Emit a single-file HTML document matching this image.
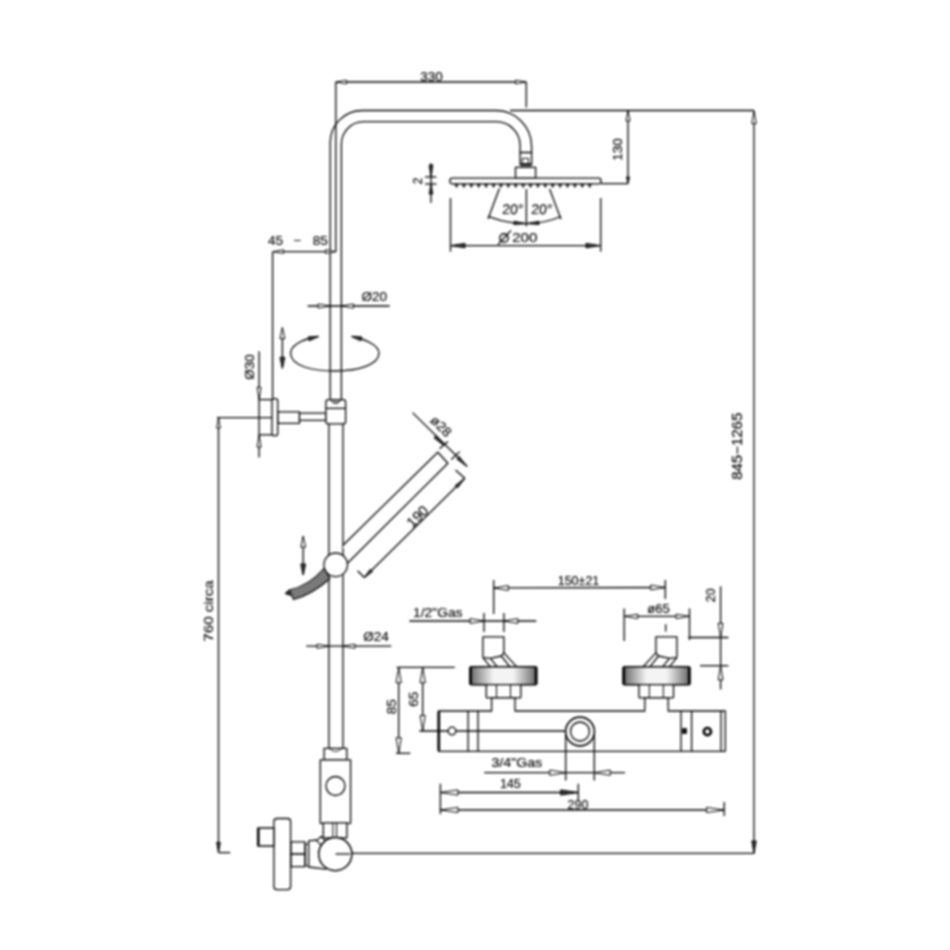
<!DOCTYPE html>
<html><head><meta charset="utf-8"><style>
html,body{margin:0;padding:0;background:#fff;width:950px;height:950px;overflow:hidden}
svg{display:block;filter:blur(1px)}
text{font-family:"Liberation Sans",sans-serif;fill:#000;stroke:#000;stroke-width:0.15px}
</style></head><body>
<svg width="950" height="950" viewBox="0 0 950 950">
<defs>
<linearGradient id="nutg" x1="0" x2="1" y1="0" y2="0">
<stop offset="0" stop-color="#666"/><stop offset="0.12" stop-color="#999"/><stop offset="0.35" stop-color="#f4f4f4"/><stop offset="0.65" stop-color="#f4f4f4"/><stop offset="0.88" stop-color="#999"/><stop offset="1" stop-color="#666"/>
</linearGradient>
<filter id="bl" x="0" y="0" width="950" height="950" filterUnits="userSpaceOnUse"><feGaussianBlur stdDeviation="0.55"/></filter>
</defs>
<g stroke="#000" stroke-width="1.3" fill="none" stroke-linejoin="round">
<line x1="335.8" y1="82" x2="526.3" y2="82"/>
<line x1="335.8" y1="82" x2="335.8" y2="252"/>
<line x1="526.3" y1="82" x2="526.3" y2="107.5"/>
<path d="M336.5 82L346.5 80.2L346.5 83.8Z" fill="#fff" stroke-width="1"/>
<path d="M525.5 82L515.5 83.8L515.5 80.2Z" fill="#fff" stroke-width="1"/>
<text transform="translate(431.5 80.5)" font-size="13.5" text-anchor="middle">330</text>
<line x1="510" y1="110.5" x2="754" y2="110.5"/>
<path d="M330.2 399.6 V142.5 A32 32 0 0 1 362.2 110.5 H495.6 A36 36 0 0 1 531.6 146.5 V152.5" fill="none"/>
<path d="M341.4 399.6 V144 A22.3 22.3 0 0 1 363.7 121.7 H496.3 A23.8 23.8 0 0 1 520.1 145.5 V152.5" fill="none"/>
<rect x="520.1" y="152.5" width="11.5" height="12" fill="#fff"/>
<rect x="522.3" y="158.4" width="6.2" height="5.2" fill="#fff" stroke-width="1"/>
<rect x="520.8" y="163.5" width="10.2" height="2.5" fill="#333" stroke-width="0.5"/>
<rect x="515.5" y="167.3" width="20.1" height="11.1" fill="#fff"/>
<rect x="449.9" y="178.2" width="151.1" height="5.6" fill="#fff" rx="2.5"/>
<path d="M454.8 184.4 L458.2 184.4 L456.5 187.6 Z" fill="#1a1a1a" stroke-width="0.6"/>
<path d="M462.2 184.4 L465.6 184.4 L463.9 187.6 Z" fill="#1a1a1a" stroke-width="0.6"/>
<path d="M469.6 184.4 L473 184.4 L471.3 187.6 Z" fill="#1a1a1a" stroke-width="0.6"/>
<path d="M477 184.4 L480.4 184.4 L478.7 187.6 Z" fill="#1a1a1a" stroke-width="0.6"/>
<path d="M484.4 184.4 L487.8 184.4 L486.1 187.6 Z" fill="#1a1a1a" stroke-width="0.6"/>
<path d="M491.8 184.4 L495.2 184.4 L493.5 187.6 Z" fill="#1a1a1a" stroke-width="0.6"/>
<path d="M499.2 184.4 L502.6 184.4 L500.9 187.6 Z" fill="#1a1a1a" stroke-width="0.6"/>
<path d="M506.6 184.4 L510 184.4 L508.3 187.6 Z" fill="#1a1a1a" stroke-width="0.6"/>
<path d="M514 184.4 L517.4 184.4 L515.7 187.6 Z" fill="#1a1a1a" stroke-width="0.6"/>
<path d="M521.4 184.4 L524.8 184.4 L523.1 187.6 Z" fill="#1a1a1a" stroke-width="0.6"/>
<path d="M528.8 184.4 L532.2 184.4 L530.5 187.6 Z" fill="#1a1a1a" stroke-width="0.6"/>
<path d="M536.2 184.4 L539.6 184.4 L537.9 187.6 Z" fill="#1a1a1a" stroke-width="0.6"/>
<path d="M543.6 184.4 L547 184.4 L545.3 187.6 Z" fill="#1a1a1a" stroke-width="0.6"/>
<path d="M551 184.4 L554.4 184.4 L552.7 187.6 Z" fill="#1a1a1a" stroke-width="0.6"/>
<path d="M558.4 184.4 L561.8 184.4 L560.1 187.6 Z" fill="#1a1a1a" stroke-width="0.6"/>
<path d="M565.8 184.4 L569.2 184.4 L567.5 187.6 Z" fill="#1a1a1a" stroke-width="0.6"/>
<path d="M573.2 184.4 L576.6 184.4 L574.9 187.6 Z" fill="#1a1a1a" stroke-width="0.6"/>
<path d="M580.6 184.4 L584 184.4 L582.3 187.6 Z" fill="#1a1a1a" stroke-width="0.6"/>
<path d="M588 184.4 L591.4 184.4 L589.7 187.6 Z" fill="#1a1a1a" stroke-width="0.6"/>
<line x1="601" y1="183.6" x2="628" y2="183.6"/>
<line x1="628" y1="110.5" x2="628" y2="183.6"/>
<path d="M628 111L630 121L626 121Z" fill="#fff" stroke-width="1"/>
<path d="M628 183L626.5 177L629.5 177Z" fill="#333" stroke-width="1"/>
<text transform="translate(622 149.5) rotate(-90)" font-size="13.5" text-anchor="middle">130</text>
<line x1="431" y1="163.3" x2="431" y2="203"/>
<line x1="425" y1="177" x2="436.5" y2="177"/>
<line x1="425" y1="184" x2="436.5" y2="184"/>
<path d="M431 177L429.2 165L432.8 165Z" fill="#333" stroke-width="1"/>
<path d="M431 184L432.8 194L429.2 194Z" fill="#333" stroke-width="1"/>
<text transform="translate(422 181) rotate(-90)" font-size="12" text-anchor="middle">2</text>
<line x1="526.4" y1="189" x2="526.4" y2="226.4"/>
<line x1="499.4" y1="188.5" x2="488" y2="219"/>
<line x1="549.6" y1="189" x2="561" y2="219.3"/>
<path d="M488 216.3 Q526.4 231 561 216.5" fill="none"/>
<path d="M526 223.5L513.94 224.5L514.09 221.3Z" fill="#333" stroke-width="1"/>
<path d="M527 223.5L538.91 221.3L539.06 224.5Z" fill="#333" stroke-width="1"/>
<text transform="translate(512.5 213.6) skewX(-4)" font-size="14" text-anchor="middle">20°</text>
<text transform="translate(541.6 213.6) skewX(-4)" font-size="14" text-anchor="middle">20°</text>
<line x1="450.5" y1="198" x2="450.5" y2="251.7"/>
<line x1="600.7" y1="198" x2="600.7" y2="251.7"/>
<line x1="450.5" y1="245.6" x2="600.7" y2="245.6"/>
<path d="M451 245.6L465 243.4L465 247.8Z" fill="#333" stroke-width="1"/>
<path d="M600 245.6L586 247.8L586 243.4Z" fill="#333" stroke-width="1"/>
<text transform="translate(524.8 242) scale(1.12 1)" font-size="13.5" text-anchor="middle">200</text>
<circle cx="504" cy="238" r="4.2" fill="none" stroke-width="1.4"/>
<line x1="498" y1="244.5" x2="511" y2="230.5" stroke-width="1.2"/>
<line x1="754" y1="110.7" x2="754" y2="853.6"/>
<path d="M754 111.5L756.2 123.5L751.8 123.5Z" fill="#fff" stroke-width="1"/>
<path d="M754 853L751.8 841L756.2 841Z" fill="#333" stroke-width="1"/>
<text transform="translate(742 446.3) rotate(-90) scale(1.07 1)" font-size="14" text-anchor="middle">845−1265</text>
<line x1="335.5" y1="853.4" x2="754" y2="853.4"/>
<line x1="272.9" y1="251.6" x2="336" y2="251.6"/>
<path d="M273.5 251.6L283.5 249.8L283.5 253.4Z" fill="#fff" stroke-width="1"/>
<path d="M335.5 251.6L325.5 253.4L325.5 249.8Z" fill="#fff" stroke-width="1"/>
<line x1="272.6" y1="251.6" x2="272.6" y2="399.6"/>
<text transform="translate(275.5 245.3)" font-size="13.5" text-anchor="middle">45</text>
<text transform="translate(297.5 245.3)" font-size="13.5" text-anchor="middle">−</text>
<text transform="translate(320.2 245.3)" font-size="13.5" text-anchor="middle">85</text>
<line x1="307.6" y1="306" x2="389.7" y2="306"/>
<path d="M330 306L318 308L318 304Z" fill="#fff" stroke-width="1"/>
<path d="M341.5 306L353.5 304L353.5 308Z" fill="#fff" stroke-width="1"/>
<text transform="translate(374.3 300.5)" font-size="13.5" text-anchor="middle">Ø20</text>
<path d="M318.5 336.5 C 300 339, 290 347, 290.6 354 C 292 366, 312 371, 335 371 C 360 371, 379 364, 379 353 C 379 346, 368 340, 352 336.5" fill="none"/>
<path d="M318.5 336.4L309.28 340.77L308.31 336.89Z" fill="#333" stroke-width="1"/>
<path d="M351.5 336.4L361.69 336.89L360.72 340.77Z" fill="#333" stroke-width="1"/>
<line x1="282.4" y1="327.6" x2="282.4" y2="368.3"/>
<path d="M282.4 327.6L284.8 338.6L280 338.6Z" fill="#fff" stroke-width="1"/>
<path d="M282.4 368.3L280 357.3L284.8 357.3Z" fill="#333" stroke-width="1"/>
<line x1="259.1" y1="351.3" x2="259.1" y2="457.4"/>
<line x1="259.1" y1="399.6" x2="272" y2="399.6"/>
<line x1="259.1" y1="434.8" x2="272" y2="434.8"/>
<path d="M259.1 399.3L257.1 387.3L261.1 387.3Z" fill="#fff" stroke-width="1"/>
<path d="M259.1 435.1L261.1 447.1L257.1 447.1Z" fill="#fff" stroke-width="1"/>
<text transform="translate(253.5 367) rotate(-90)" font-size="13.5" text-anchor="middle">Ø30</text>
<line x1="217" y1="417.6" x2="272.6" y2="417.6"/>
<line x1="218.5" y1="417.6" x2="218.5" y2="852.6"/>
<line x1="218.5" y1="852.6" x2="230.3" y2="852.6"/>
<path d="M218.5 418L220.3 428L216.7 428Z" fill="#fff" stroke-width="1"/>
<path d="M218.5 852.4L216.7 842.4L220.3 842.4Z" fill="#333" stroke-width="1"/>
<text transform="translate(213 611) rotate(-90) scale(1.12 1)" font-size="13.5" text-anchor="middle">760  circa</text>
<rect x="277.7" y="411.9" width="21.8" height="11.4" fill="#fff"/>
<rect x="299.5" y="413.2" width="26.5" height="7.2" fill="#fff"/>
<rect x="272" y="398.6" width="5.7" height="37" fill="#fff" rx="2.2"/>
<line x1="328.9" y1="424" x2="328.9" y2="748.4"/>
<line x1="343" y1="424" x2="343" y2="748.4"/>
<rect x="325.9" y="399.6" width="19.7" height="24.3" fill="#fff" rx="2.5"/>
<line x1="325.9" y1="408.4" x2="345.6" y2="408.4"/>
<path d="M330.5 400 Q335.8 407 341 400" fill="#999" stroke-width="1"/>
<path d="M342.8 545.5 L437.8 452.2 L447.9 463.2 L347.5 563.2" fill="#fff"/>
<circle cx="335.7" cy="564.8" r="11.8" fill="#fff"/>
<path d="M324 568.5 C 313 581, 301 587.5, 289.5 590 L 293.5 599.5 C 306 596, 319 588.5, 330 578.5 Z" fill="#7a7a7a" stroke-width="1.1"/>
<path d="M289.5 590 L 285.5 593.5 L 291 595.5" fill="#333" stroke-width="1.2"/>
<line x1="412.5" y1="412.6" x2="467.3" y2="466.5"/>
<line x1="439.5" y1="448.8" x2="447.9" y2="441.4"/>
<line x1="451.3" y1="459.5" x2="459.7" y2="451.6"/>
<path d="M443.6 445.2L433.98 437.85L436.25 435.58Z" fill="#333" stroke-width="1"/>
<path d="M466.5 466.2L456.81 458.92L459.22 456.51Z" fill="#333" stroke-width="1"/>
<text transform="translate(437.8 429.5) rotate(45)" font-size="13.5" text-anchor="middle">ø28</text>
<line x1="357.6" y1="570.7" x2="364.3" y2="577.5"/>
<line x1="364.3" y1="577.5" x2="464.8" y2="478.3"/>
<line x1="455.5" y1="469.9" x2="464.8" y2="478.3"/>
<path d="M364.3 577.5L370.24 569.3L372.5 571.56Z" fill="#333" stroke-width="1"/>
<path d="M464.8 478.3L457.45 487.92L455.18 485.65Z" fill="#333" stroke-width="1"/>
<text transform="translate(421 520) rotate(-45)" font-size="14.5" text-anchor="middle">190</text>
<line x1="303.2" y1="536.2" x2="303.2" y2="575"/>
<path d="M303.2 536.2L305.6 547.2L300.8 547.2Z" fill="#fff" stroke-width="1"/>
<path d="M303.2 575L300.8 564L305.6 564Z" fill="#333" stroke-width="1"/>
<line x1="306.2" y1="646.2" x2="391.3" y2="646.2"/>
<path d="M329 646.2L317 648.2L317 644.2Z" fill="#fff" stroke-width="1"/>
<path d="M343 646.2L355 644.2L355 648.2Z" fill="#fff" stroke-width="1"/>
<text transform="translate(376 640.6)" font-size="13.5" text-anchor="middle">Ø24</text>
<rect x="324.1" y="748.4" width="22.7" height="11.4" fill="#fff"/>
<path d="M330 749 Q335.5 754 341 749" fill="none" stroke-width="0.9"/>
<rect x="320.3" y="759.8" width="30.3" height="63.5" fill="#fff"/>
<circle cx="335.5" cy="786" r="9.5" fill="#fff"/>
<rect x="323.3" y="822.8" width="23.6" height="15" fill="#fff"/>
<line x1="332.9" y1="822.8" x2="332.9" y2="837.8" stroke-width="1"/>
<line x1="336.6" y1="822.8" x2="336.6" y2="837.8" stroke-width="1"/>
<path d="M308.6 840.8 L316.7 840 L330 845 L335 854 L326 869.2 L308.6 867 Z" fill="#fff"/>
<path d="M321.1 836.4 L325.5 840.8 L321.1 845.2 L316.7 840.8 Z" fill="#fff" stroke-width="1.1"/>
<circle cx="335.3" cy="854.1" r="16.6" fill="#fff" stroke-width="1.5"/>
<line x1="335.5" y1="854" x2="350" y2="854"/>
<rect x="305.6" y="844" width="3" height="21.8" fill="#fff" stroke-width="1"/>
<rect x="290.9" y="841.9" width="14" height="24.7" fill="#fff"/>
<line x1="290.9" y1="854" x2="304.9" y2="854" stroke-width="1.6"/>
<rect x="273.9" y="818.5" width="16.7" height="71.1" fill="#fff" rx="3"/>
<rect x="257.8" y="828" width="16.1" height="18" fill="#fff"/>
<line x1="258.3" y1="828.5" x2="258.3" y2="845.5" stroke-width="2.5"/>
<line x1="493.7" y1="588" x2="665.3" y2="587.5"/>
<line x1="493.7" y1="579.9" x2="493.7" y2="614"/>
<line x1="665.3" y1="580" x2="665.3" y2="599"/>
<path d="M494.3 588L508.3 585.6L508.3 590.4Z" fill="#fff" stroke-width="1"/>
<path d="M664.7 587.5L650.7 589.9L650.7 585.1Z" fill="#fff" stroke-width="1"/>
<text transform="translate(578.5 584.8)" font-size="12.5" text-anchor="middle">150±21</text>
<line x1="409.4" y1="621" x2="536.3" y2="621"/>
<line x1="484" y1="613" x2="484" y2="632.1"/>
<line x1="503.9" y1="613" x2="503.9" y2="632.1"/>
<path d="M484 621L470 623.4L470 618.6Z" fill="#fff" stroke-width="1"/>
<path d="M503.9 621L517.9 618.6L517.9 623.4Z" fill="#fff" stroke-width="1"/>
<text transform="translate(437.8 616.8) scale(1.15 1)" font-size="12" text-anchor="middle">1/2"Gas</text>
<line x1="624.2" y1="616.4" x2="689.5" y2="616.4"/>
<line x1="624.2" y1="608.4" x2="624.2" y2="641"/>
<line x1="689.5" y1="608.4" x2="689.5" y2="640"/>
<path d="M624.8 616.4L637.8 614.2L637.8 618.6Z" fill="#fff" stroke-width="1"/>
<path d="M689 616.4L676 618.6L676 614.2Z" fill="#fff" stroke-width="1"/>
<text transform="translate(658.5 612.6)" font-size="13" text-anchor="middle">ø65</text>
<line x1="665.7" y1="624.2" x2="665.7" y2="631.6"/>
<line x1="720.6" y1="586.3" x2="720.6" y2="689.5"/>
<line x1="688.4" y1="637.5" x2="728.4" y2="637.5"/>
<line x1="700" y1="665.7" x2="728.4" y2="665.7"/>
<path d="M720.6 637.3L718.2 623.3L723 623.3Z" fill="#fff" stroke-width="1"/>
<path d="M720.6 665.9L723 679.9L718.2 679.9Z" fill="#fff" stroke-width="1"/>
<text transform="translate(715 595.2) rotate(-90)" font-size="12.5" text-anchor="middle">20</text>
<line x1="396.7" y1="667.3" x2="454.8" y2="667.3"/>
<line x1="398.7" y1="667.3" x2="398.7" y2="753.3"/>
<line x1="396" y1="753.3" x2="410.4" y2="753.3"/>
<path d="M398.7 667.8L401.3 682.8L396.1 682.8Z" fill="#fff" stroke-width="1"/>
<path d="M398.7 752.8L396.1 737.8L401.3 737.8Z" fill="#fff" stroke-width="1"/>
<text transform="translate(395.5 706.8) rotate(-90)" font-size="13.5" text-anchor="middle">85</text>
<line x1="422.7" y1="667.3" x2="422.7" y2="731"/>
<path d="M422.7 667.8L425.3 682.8L420.1 682.8Z" fill="#fff" stroke-width="1"/>
<path d="M422.7 730.5L420.1 715.5L425.3 715.5Z" fill="#fff" stroke-width="1"/>
<text transform="translate(418 699.3) rotate(-90)" font-size="13.5" text-anchor="middle">65</text>
<rect x="438.5" y="711" width="286.8" height="40.3" fill="#fff"/>
<line x1="438.8" y1="711.5" x2="438.8" y2="750.8" stroke-width="2.6"/>
<line x1="468.1" y1="711" x2="468.1" y2="751.3"/>
<line x1="478" y1="711" x2="478" y2="751.3"/>
<line x1="681" y1="711" x2="681" y2="751.3"/>
<line x1="691.6" y1="711" x2="691.6" y2="751.3"/>
<line x1="721" y1="711" x2="721" y2="751.3"/>
<line x1="419.3" y1="731" x2="566" y2="731"/>
<circle cx="452" cy="731" r="3.8" fill="#fff"/>
<circle cx="707.4" cy="731.6" r="3.6" fill="#fff" stroke-width="2.6"/>
<rect x="682.5" y="728.5" width="4" height="5" fill="#111" stroke-width="0.8"/>
<line x1="565.7" y1="731" x2="565.7" y2="780.5"/>
<line x1="594.3" y1="731" x2="594.3" y2="780.5"/>
<circle cx="580" cy="731.5" r="14.4" fill="#fff" stroke-width="1.6"/>
<circle cx="580" cy="731.5" r="9.5" fill="#fff"/>
<line x1="484.2" y1="772.7" x2="625" y2="772.7"/>
<path d="M565.7 772.7L549.7 775.3L549.7 770.1Z" fill="#fff" stroke-width="1"/>
<path d="M594.3 772.7L610.3 770.1L610.3 775.3Z" fill="#fff" stroke-width="1"/>
<text transform="translate(516.8 766.8) scale(1.18 1)" font-size="12" text-anchor="middle">3/4"Gas</text>
<line x1="440.4" y1="792.5" x2="578.3" y2="792.5"/>
<line x1="440.4" y1="783.7" x2="440.4" y2="814.2"/>
<line x1="578.3" y1="783.7" x2="578.3" y2="800"/>
<path d="M441 792.5L458 789.9L458 795.1Z" fill="#fff" stroke-width="1"/>
<path d="M577.7 792.5L560.7 795.1L560.7 789.9Z" fill="#333" stroke-width="1"/>
<text transform="translate(510.3 788.3)" font-size="12.5" text-anchor="middle">145</text>
<line x1="440.4" y1="810" x2="724.2" y2="810"/>
<line x1="724.2" y1="802" x2="724.2" y2="816"/>
<path d="M441 810L458 807.4L458 812.6Z" fill="#fff" stroke-width="1"/>
<path d="M723.6 810L706.6 812.6L706.6 807.4Z" fill="#fff" stroke-width="1"/>
<text transform="translate(578 809)" font-size="12.5" text-anchor="middle">290</text>
<path d="M482.9 657.6 V636.8 H503.9 V652.9" fill="#fff"/>
<path d="M482.9 657.6 L490.3 658.4 L501.3 656 L503.9 652.9" fill="none"/>
<path d="M482.9 657.6 L490.3 666.6 M490.3 658.4 L497.1 666.6 M501.3 656 L509.7 666.6 M503.9 652.9 L516.6 666.6" fill="none"/>
<rect x="470" y="666.8" width="66.6" height="17.9" fill="url(#nutg)" stroke-width="1.6" rx="1.2"/>
<line x1="470.6" y1="667.3" x2="470.6" y2="684.2" stroke-width="2.6"/>
<line x1="536" y1="667.3" x2="536" y2="684.2" stroke-width="2.6"/>
<rect x="486.3" y="684.7" width="34.5" height="13.2" fill="#fff" rx="1"/>
<line x1="496.5" y1="684.7" x2="496.5" y2="697.9" stroke-width="1"/>
<line x1="510.5" y1="684.7" x2="510.5" y2="697.9" stroke-width="1"/>
<path d="M491.6 711 V697.9 H515 V711" fill="#fff"/>
<g transform="translate(1159.8 0) scale(-1 1)">
<path d="M482.9 657.6 V636.8 H503.9 V652.9" fill="#fff"/>
<path d="M482.9 657.6 L490.3 658.4 L501.3 656 L503.9 652.9" fill="none"/>
<path d="M482.9 657.6 L490.3 666.6 M490.3 658.4 L497.1 666.6 M501.3 656 L509.7 666.6 M503.9 652.9 L516.6 666.6" fill="none"/>
<rect x="470" y="666.8" width="66.6" height="17.9" fill="url(#nutg)" stroke-width="1.6" rx="1.2"/>
<line x1="470.6" y1="667.3" x2="470.6" y2="684.2" stroke-width="2.6"/>
<line x1="536" y1="667.3" x2="536" y2="684.2" stroke-width="2.6"/>
<rect x="486.3" y="684.7" width="34.5" height="13.2" fill="#fff" rx="1"/>
<line x1="496.5" y1="684.7" x2="496.5" y2="697.9" stroke-width="1"/>
<line x1="510.5" y1="684.7" x2="510.5" y2="697.9" stroke-width="1"/>
<path d="M491.6 711 V697.9 H515 V711" fill="#fff"/>
</g>
<rect x="492.3" y="709.5" width="22" height="3" fill="#fff" stroke="none"/>
<rect x="645.5" y="709.5" width="22" height="3" fill="#fff" stroke="none"/>
</g>
</svg>
</body></html>
